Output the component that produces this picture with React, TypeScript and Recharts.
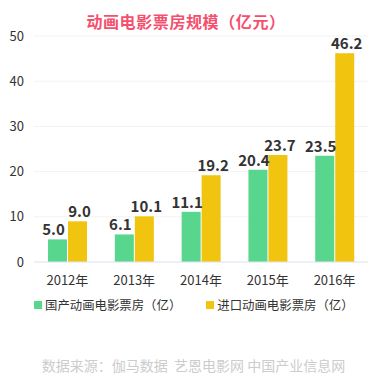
import { BarChart, Bar, XAxis, YAxis, CartesianGrid, LabelList, Legend } from "recharts";

const years = ["2012年", "2013年", "2014年", "2015年", "2016年"];
const domestic = [5.0, 6.1, 11.1, 20.4, 23.5];
const imported = [9.0, 10.1, 19.2, 23.7, 46.2];
const yTicks = [0, 10, 20, 30, 40, 50];

const series = [
  { key: "domestic", name: "国产动画电影票房（亿）", color: "#58d68d", dx: -4 },
  { key: "imported", name: "进口动画电影票房（亿）", color: "#f1c40f", dx: 2 },
];

const data = years.map((year, i) => ({
  year,
  domestic: domestic[i],
  imported: imported[i],
}));

const font = '"Noto Sans CJK SC", "Noto Sans", sans-serif';

const LegendContent = () => (
  <div style={{ display: "flex", fontFamily: font, fontSize: 12.4, color: "#333" }}>
    {series.map((s, i) => (
      <div
        key={s.key}
        style={{ display: "flex", alignItems: "center", marginRight: i === 0 ? 25 : 0 }}
      >
        <span
          style={{ width: 8, height: 8, background: s.color, display: "inline-block", marginRight: 3 }}
        />
        <span>{s.name}</span>
      </div>
    ))}
  </div>
);

const App = () => {
  return (
    <div style={{ position: "absolute", left: 0, top: 0, width: 387, height: 391, background: "#fff" }}>
      <div
        style={{
          position: "absolute",
          top: 9,
          left: 0,
          width: 372,
          textAlign: "center",
          fontFamily: font,
          fontSize: 16,
          fontWeight: 700,
          color: "#f4506e",
          letterSpacing: 0.6,
        }}
      >
        动画电影票房规模（亿元）
      </div>
      <BarChart
        width={387}
        height={391}
        data={data}
        margin={{ top: 36, right: 19, left: 0, bottom: 99 }}
        barCategoryGap="21%"
        barGap={1}
      >
        <CartesianGrid vertical={false} stroke="#f2f2f2" />
        <XAxis
          dataKey="year"
          height={30}
          tickLine={false}
          axisLine={{ stroke: "#e0e6f1" }}
          tick={{ fontSize: 13, fill: "#333", fontFamily: font }}
          tickMargin={8}
        />
        <YAxis
          width={34}
          domain={[0, 50]}
          ticks={yTicks}
          axisLine={false}
          tickLine={false}
          tick={{ fontSize: 13, fill: "#333", fontFamily: font }}
          tickMargin={4}
        />
        <Legend
          layout="horizontal"
          verticalAlign="middle"
          content={<LegendContent />}
          wrapperStyle={{ top: 296, left: 34, width: 340 }}
        />
        {series.map((s) => (
          <Bar key={s.key} dataKey={s.key} name={s.name} fill={s.color} isAnimationActive={false}>
            <LabelList
              dataKey={s.key}
              position="top"
              offset={4}
              dx={s.dx}
              formatter={(v: number) => v.toFixed(1)}
              style={{ fontSize: 15, fontWeight: 700, fill: "#333", fontFamily: font }}
            />
          </Bar>
        ))}
      </BarChart>
      <div
        style={{
          position: "absolute",
          top: 355,
          left: 0,
          width: 387,
          textAlign: "center",
          fontFamily: font,
          fontSize: 14,
          color: "#cccccc",
          whiteSpace: "pre",
        }}
      >
        数据来源：伽马数据  艺恩电影网 中国产业信息网
      </div>
    </div>
  );
};

export default App;
